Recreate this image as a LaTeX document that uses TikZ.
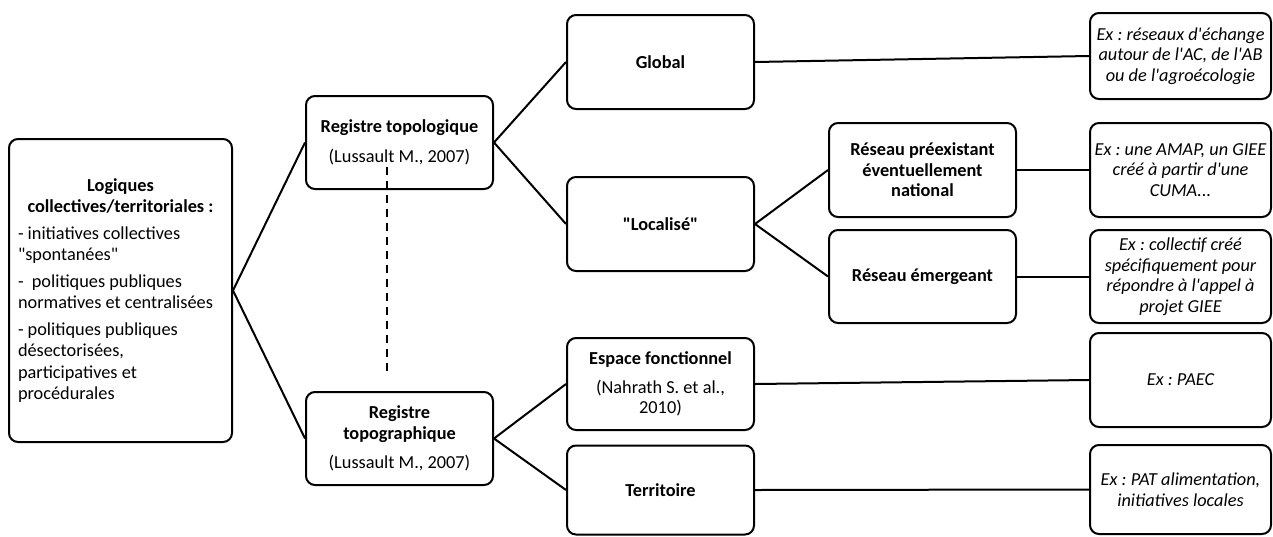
\documentclass[tikz,border=0pt]{standalone}
\usepackage{fontspec}
\setmainfont{Carlito}[Ligatures=TeXOff]
\newcommand\taille{\fontsize{18.3}{20.5}\selectfont\frenchspacing}
\tikzset{
  boite/.style={draw,line width=2pt,rounded corners=9pt,align=center,
    minimum width=187pt,minimum height=93pt,inner sep=3pt,font=\taille},
  exemple/.style={boite,minimum width=181pt,font=\taille\itshape},
  lien/.style={line width=2pt}
}
\begin{document}
\begin{tikzpicture}[x=1pt,y=-1pt]
\useasboundingbox (0,0) rectangle (1273,536);
% colonne de gauche
\node[boite,minimum width=223pt,minimum height=303pt,inner sep=0pt,
  font=\fontsize{18.3}{21.5}\selectfont\frenchspacing] (logiq) at (120.5,290.5)
  {\parbox{205pt}{\centering\bfseries Logiques\\ collectives/territoriales :\par
   \vspace{5pt}\raggedright\mdseries
   - initiatives collectives\\ "spontanées"\par\vspace{5pt}
   -\ \ politiques publiques\\ normatives et centralisées\par\vspace{5pt}
   - politiques publiques\\ désectorisées,\\ participatives et\\ procédurales}};
% registres
\node[boite] (topo) at (399.5,142.5) {\textbf{Registre topologique}\\[10pt](Lussault M., 2007)};
\node[boite] (topog) at (399.5,438.5) {\textbf{Registre}\\\textbf{topographique}\\[9pt](Lussault M., 2007)};
% deuxieme niveau
\node[boite,minimum height=94pt] (global) at (660.5,62) {\textbf{Global}};
\node[boite,minimum height=94pt] (local) at (660.5,224) {\textbf{"Localisé"}};
\node[boite,minimum height=92pt] (espace) at (660.5,384) {\textbf{Espace fonctionnel}\\[8pt](Nahrath S. et al.,\\2010)};
\node[boite,minimum height=89pt] (territ) at (660.5,490) {\textbf{Territoire}};
\node[boite,minimum height=94pt] (preex) at (922.5,170) {\textbf{Réseau préexistant}\\\textbf{éventuellement}\\\textbf{national}};
\node[boite] (emerg) at (922.5,276.5) {\textbf{Réseau émergeant}};
% exemples
\node[exemple,minimum height=86pt] (exglob) at (1180.5,56) {Ex : réseaux d'échange\\autour de l'AC, de l'AB\\ou de l'agroécologie};
\node[exemple,minimum height=94pt] (expreex) at (1180.5,170) {Ex : une AMAP, un GIEE\\créé à partir d'une\\CUMA...};
\node[exemple] (exemerg) at (1180.5,276.5) {Ex : collectif créé\\spécifiquement pour\\répondre à l'appel à\\projet GIEE};
\node[exemple,minimum height=94pt] (expaec) at (1180.5,380) {Ex : PAEC};
\node[exemple,minimum height=89pt] (expat) at (1180.5,489.5) {Ex : PAT alimentation,\\initiatives locales};
% liens
\draw[lien] (topo.west)--(logiq.east)--(topog.west);
\draw[lien] (global.west)--(topo.east)--(local.west);
\draw[lien] (preex.west)--(local.east)--(emerg.west);
\draw[lien] (espace.west)--(topog.east)--(territ.west);
\draw[lien] (global.east)--(exglob.west);
\draw[lien] (preex.east)--(expreex.west);
\draw[lien] (emerg.east)--(exemerg.west);
\draw[lien] (espace.east)--(expaec.west);
\draw[lien] (territ.east)--(expat.west);
\coordinate (dashhaut) at (387,167);
\coordinate (dashbas) at (387,372);
\draw[lien,dash pattern=on 8pt off 6pt] (dashhaut)--(dashbas);
\end{tikzpicture}
\end{document}
